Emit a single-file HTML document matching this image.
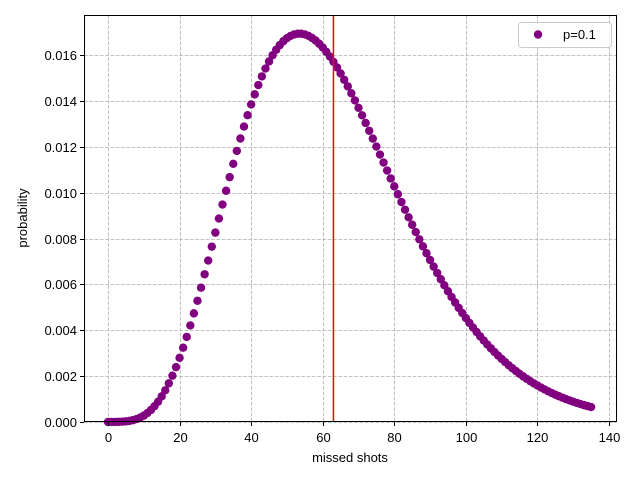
<!DOCTYPE html>
<html><head><meta charset="utf-8"><style>
html,body{margin:0;padding:0;background:#fff;}
svg{display:block;font-family:"Liberation Sans","DejaVu Sans",sans-serif;}
</style></head><body>
<svg id="chart" width="640" height="480" xmlns="http://www.w3.org/2000/svg">
<rect width="640" height="480" fill="#fff"/>
<g id="grid"></g>
<g id="marks"></g>
<line id="meanline" stroke="#ff0000" stroke-width="1.5"/>
<rect x="84.5" y="15.5" width="532" height="406" fill="none" stroke="#000" stroke-width="1"/>
<g id="axes"></g>
<text x="350" y="462" font-size="13" text-anchor="middle">missed shots</text>
<text transform="translate(27,218) rotate(-90)" font-size="13" text-anchor="middle">probability</text>
<g>
<rect x="518.5" y="22.5" width="93" height="25" rx="3" fill="#fff" fill-opacity="0.8" stroke="#ccc"/>
<circle cx="538" cy="34.5" r="4.2" fill="#800080"/>
<text x="563" y="39" font-size="13">p=0.1</text>
</g>
</svg>
<script>
const xTicks = [0,20,40,60,80,100,120,140];
const yTicks = [0,0.002,0.004,0.006,0.008,0.010,0.012,0.014,0.016];
const yTickLabels = ["0.000","0.002","0.004","0.006","0.008","0.010","0.012","0.014","0.016"];
const meanValue = 63;
// probability × 10^3, k = 0..135
const probE3 = [0.0001,0.00063,0.002268,0.0061236,0.013778,0.02728,0.049104,0.082074,0.129266,0.193899,
0.279215,0.388363,0.52429,0.689642,0.886682,1.11722,1.38256,1.68347,2.02016,2.3923,
2.7990,3.2388,3.7099,4.2099,4.7361,5.2855,5.8547,6.4402,7.0382,7.6449,
8.2565,8.8691,9.4788,10.082,10.675,11.255,11.817,12.360,12.881,13.376,
13.844,14.283,14.691,15.067,15.409,15.717,15.990,16.228,16.431,16.599,
16.732,16.830,16.895,16.927,16.927,16.896,16.836,16.747,16.632,16.491,
16.326,16.139,15.931,15.703,15.458,15.196,14.920,14.631,14.330,14.018,
13.698,13.370,13.036,12.697,12.354,12.008,11.660,11.312,10.964,10.617,
10.272,9.9296,9.5906,9.2555,8.9249,8.5994,8.2794,7.9654,7.6577,7.3566,
7.0623,6.7752,6.4953,6.2229,5.9581,5.7010,5.4516,5.2099,4.9760,4.7498,
4.5313,4.3204,4.1171,3.9212,3.7327,3.5514,3.3772,3.2099,3.0494,2.8955,
2.7481,2.6070,2.4720,2.3429,2.2196,2.1019,1.9896,1.8825,1.7804,1.6832,
1.5906,1.5025,1.4188,1.3392,1.2636,1.1918,1.1237,1.0591,0.9979,0.9399,
0.8849,0.8329,0.7837,0.7371,0.6931,0.6515];
const NS="http://www.w3.org/2000/svg";
function xs(v){return 108 + v*(501/140);}
function ys(v){return 422 - v*(367/0.016);}
function mk(tag,attrs,parent){const e=document.createElementNS(NS,tag);for(const k in attrs)e.setAttribute(k,attrs[k]);parent.appendChild(e);return e;}
const grid=document.getElementById('grid'), axes=document.getElementById('axes'), marks=document.getElementById('marks');
xTicks.forEach(t=>{
  const x=Math.round(xs(t))+0.5;
  const g=mk('line',{x1:x,x2:x,y1:15,y2:422,stroke:'#b0b0b0','stroke-dasharray':'3.7,1.6','stroke-width':0.8},grid);
  
  
  const tk=mk('line',{x1:x,x2:x,y1:422,y2:426,stroke:'#000'},axes);
  
  
  const tx=mk('text',{x:x,y:442,'font-size':13,'text-anchor':'middle'},axes);
  tx.textContent=String(t);
  
  
});
yTicks.forEach((t,i)=>{
  const y=Math.round(ys(t))+0.5;
  const g=mk('line',{x1:84,x2:616,y1:y,y2:y,stroke:'#b0b0b0','stroke-dasharray':'3.7,1.6','stroke-width':0.8},grid);
  
  
  const tk=mk('line',{x1:80,x2:84,y1:y,y2:y,stroke:'#000'},axes);
  
  
  const tx=mk('text',{x:77,y:y+4.5,'font-size':13,'text-anchor':'end'},axes);
  tx.textContent=yTickLabels[i];
  
  
});
probE3.forEach((v,k)=>{
  const c=mk('circle',{cx:xs(k),cy:ys(v/1000),r:4.2,fill:'#800080'},marks);
  
  
});
const ml=document.getElementById('meanline');
ml.setAttribute('x1',xs(meanValue));ml.setAttribute('x2',xs(meanValue));
ml.setAttribute('y1',15);ml.setAttribute('y2',422);
</script>
</body></html>
